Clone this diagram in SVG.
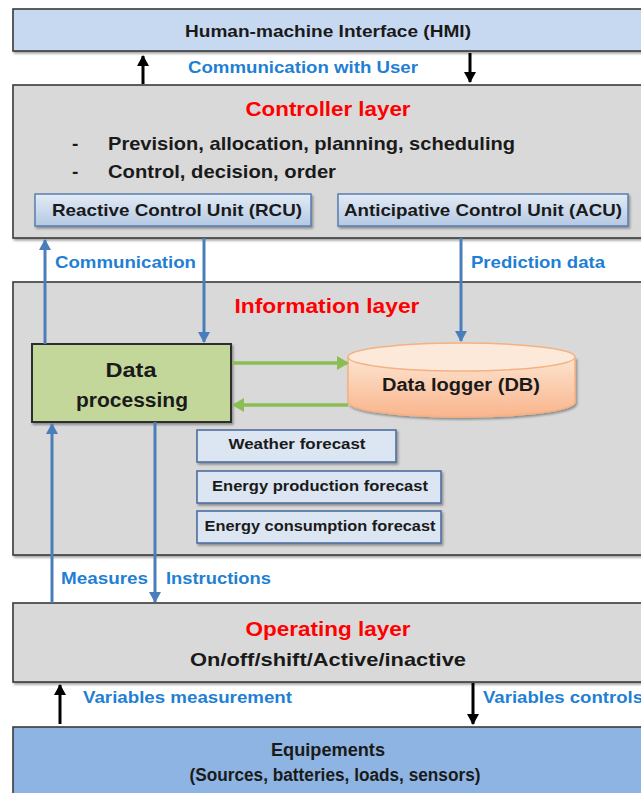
<svg xmlns="http://www.w3.org/2000/svg" width="641" height="793" viewBox="0 0 641 793">
  <style>
    .layer { fill: #d9d9d9; stroke: #3a3a3a; stroke-width: 1.6; }
    .t { font-family: "Liberation Sans", Arial, sans-serif; font-weight: bold; }
    .dark { fill: #1a1a1a; }
    .blue { fill: #1f7fd4; }
    .red { fill: #ff0000; }
    .unit { fill: url(#unitGrad); stroke: #4f78ab; stroke-width: 1.4; }
    .fc { fill: #dce6f2; stroke: #4f6f9f; stroke-width: 1.6; }
    .barrow { stroke: #4a7ebb; stroke-width: 3; fill: none; }
    .karrow { stroke: #000; stroke-width: 3; fill: none; }
    .garrow { stroke: #8cbd55; stroke-width: 3.5; fill: none; }
  </style>
  <defs>
    <linearGradient id="unitGrad" x1="0" y1="0" x2="0" y2="1">
      <stop offset="0" stop-color="#e3ebf5"/>
      <stop offset="1" stop-color="#b4c9e4"/>
    </linearGradient>
    <linearGradient id="dbGrad" x1="0" y1="0" x2="0" y2="1">
      <stop offset="0" stop-color="#fde4d0"/>
      <stop offset="1" stop-color="#f9b58c"/>
    </linearGradient>
    <filter id="shadow" x="-5%" y="-5%" width="115%" height="130%">
      <feDropShadow dx="1.5" dy="2" stdDeviation="1.2" flood-color="#000" flood-opacity="0.35"/>
    </filter>
    <marker id="headBlue" markerUnits="userSpaceOnUse" markerWidth="12" markerHeight="12" refX="10" refY="6" orient="auto">
      <path d="M0,0 L11,6 L0,12 Z" fill="#4a7ebb"/>
    </marker>
    <marker id="headBlack" markerUnits="userSpaceOnUse" markerWidth="12" markerHeight="12" refX="10" refY="6" orient="auto">
      <path d="M0,0 L11,6 L0,12 Z" fill="#000"/>
    </marker>
    <marker id="headGreen" markerUnits="userSpaceOnUse" markerWidth="12" markerHeight="14" refX="10" refY="7" orient="auto">
      <path d="M0,0 L12,7 L0,14 Z" fill="#8cbd55"/>
    </marker>
  </defs>

  <rect width="641" height="793" fill="#ffffff"/>

  <!-- HMI -->
  <g id="hmi">
    <rect x="13" y="9" width="640" height="42" fill="#c6d9f1" stroke="#3a3a3a" stroke-width="1.6" filter="url(#shadow)"/>
    <text class="t dark" x="328" y="37" font-size="17" text-anchor="middle" textLength="286" lengthAdjust="spacingAndGlyphs">Human-machine Interface (HMI)</text>
  </g>

  <!-- Controller layer -->
  <g id="controller">
    <rect class="layer" x="13" y="85" width="640" height="153" filter="url(#shadow)"/>
    <text class="t red" x="328" y="116" font-size="21" text-anchor="middle" textLength="165" lengthAdjust="spacingAndGlyphs">Controller layer</text>
    <text class="t dark" x="72" y="150" font-size="19">-</text>
    <text class="t dark" x="108" y="150" font-size="19" textLength="407" lengthAdjust="spacingAndGlyphs">Prevision, allocation, planning, scheduling</text>
    <text class="t dark" x="72" y="178" font-size="19">-</text>
    <text class="t dark" x="108" y="178" font-size="19" textLength="228" lengthAdjust="spacingAndGlyphs">Control, decision, order</text>
  </g>
  <g id="rcu">
    <rect class="unit" x="35" y="194" width="276" height="32" filter="url(#shadow)"/>
    <text class="t dark" x="177" y="216" font-size="17" text-anchor="middle" textLength="250" lengthAdjust="spacingAndGlyphs">Reactive Control Unit (RCU)</text>
  </g>
  <g id="acu">
    <rect class="unit" x="338" y="194" width="290" height="32" filter="url(#shadow)"/>
    <text class="t dark" x="483" y="216" font-size="17" text-anchor="middle" textLength="278" lengthAdjust="spacingAndGlyphs">Anticipative Control Unit (ACU)</text>
  </g>

  <!-- Information layer -->
  <g id="information">
    <rect class="layer" x="13" y="282" width="640" height="273" filter="url(#shadow)"/>
    <text class="t red" x="327" y="313" font-size="21" text-anchor="middle" textLength="185" lengthAdjust="spacingAndGlyphs">Information layer</text>
  </g>
  <g id="data-processing">
    <rect x="32" y="344" width="199" height="78" fill="#c4d79b" stroke="#2e2e2e" stroke-width="2" filter="url(#shadow)"/>
    <text class="t dark" x="131" y="377" font-size="20" text-anchor="middle" textLength="51" lengthAdjust="spacingAndGlyphs">Data</text>
    <text class="t dark" x="132" y="407" font-size="20" text-anchor="middle" textLength="112" lengthAdjust="spacingAndGlyphs">processing</text>
  </g>
  <g id="data-logger">
    <path d="M348,357 L348,402 A113.5,15 0 0 0 575,402 L575,357" fill="url(#dbGrad)" stroke="#f4b183" stroke-width="1.5" filter="url(#shadow)"/>
    <ellipse cx="461.5" cy="357" rx="113.5" ry="14" fill="#fde9d9" stroke="#f4b183" stroke-width="1.5"/>
    <text class="t dark" x="461" y="391" font-size="18" text-anchor="middle" textLength="158" lengthAdjust="spacingAndGlyphs">Data logger (DB)</text>
  </g>
  <g id="weather-forecast">
    <rect class="fc" x="197" y="430" width="199" height="32" filter="url(#shadow)"/>
    <text class="t dark" x="297" y="449" font-size="15" text-anchor="middle" textLength="137" lengthAdjust="spacingAndGlyphs">Weather forecast</text>
  </g>
  <g id="production-forecast">
    <rect class="fc" x="197" y="471" width="244" height="32" filter="url(#shadow)"/>
    <text class="t dark" x="320" y="491" font-size="15" text-anchor="middle" textLength="216" lengthAdjust="spacingAndGlyphs">Energy production forecast</text>
  </g>
  <g id="consumption-forecast">
    <rect class="fc" x="197" y="511" width="244" height="32" filter="url(#shadow)"/>
    <text class="t dark" x="320" y="531" font-size="15" text-anchor="middle" textLength="231" lengthAdjust="spacingAndGlyphs">Energy consumption forecast</text>
  </g>

  <!-- Operating layer -->
  <g id="operating">
    <rect class="layer" x="13" y="603" width="640" height="79" filter="url(#shadow)"/>
    <text class="t red" x="328" y="636" font-size="21" text-anchor="middle" textLength="165" lengthAdjust="spacingAndGlyphs">Operating layer</text>
    <text class="t dark" x="328" y="666" font-size="19" text-anchor="middle" textLength="276" lengthAdjust="spacingAndGlyphs">On/off/shift/Active/inactive</text>
  </g>

  <!-- Equipment -->
  <g id="equipment">
    <rect x="13" y="727" width="640" height="80" fill="#8db4e2" stroke="#3a3a3a" stroke-width="1.6"/>
    <text class="t dark" x="328" y="756" font-size="18" text-anchor="middle" textLength="114" lengthAdjust="spacingAndGlyphs">Equipements</text>
    <text class="t dark" x="335" y="781" font-size="18" text-anchor="middle" textLength="291" lengthAdjust="spacingAndGlyphs">(Sources, batteries, loads, sensors)</text>
  </g>

  <!-- Connectors -->
  <g id="connectors">
    <line class="karrow" x1="143" y1="84" x2="143" y2="56" marker-end="url(#headBlack)"/>
    <line class="karrow" x1="470" y1="53" x2="470" y2="82" marker-end="url(#headBlack)"/>
    <line class="barrow" x1="45" y1="344" x2="45" y2="240" marker-end="url(#headBlue)"/>
    <line class="barrow" x1="204" y1="238" x2="204" y2="342" marker-end="url(#headBlue)"/>
    <line class="barrow" x1="461" y1="238" x2="461" y2="341" marker-end="url(#headBlue)"/>
    <line class="garrow" x1="232" y1="363" x2="347" y2="363" marker-end="url(#headGreen)"/>
    <line class="garrow" x1="348" y1="405" x2="234" y2="405" marker-end="url(#headGreen)"/>
    <line class="barrow" x1="52" y1="603" x2="52" y2="424" marker-end="url(#headBlue)"/>
    <line class="barrow" x1="155" y1="422" x2="155" y2="602" marker-end="url(#headBlue)"/>
    <line class="karrow" x1="60" y1="724" x2="60" y2="685" marker-end="url(#headBlack)"/>
    <line class="karrow" x1="473" y1="683" x2="473" y2="724" marker-end="url(#headBlack)"/>
  </g>

  <!-- Connector labels -->
  <g id="labels">
    <text class="t blue" x="303" y="73" font-size="17" text-anchor="middle" textLength="230" lengthAdjust="spacingAndGlyphs">Communication with User</text>
    <text class="t blue" x="55" y="268" font-size="17" textLength="141" lengthAdjust="spacingAndGlyphs">Communication</text>
    <text class="t blue" x="471" y="268" font-size="17" textLength="134" lengthAdjust="spacingAndGlyphs">Prediction data</text>
    <text class="t blue" x="61" y="584" font-size="17" textLength="87" lengthAdjust="spacingAndGlyphs">Measures</text>
    <text class="t blue" x="166" y="584" font-size="17" textLength="105" lengthAdjust="spacingAndGlyphs">Instructions</text>
    <text class="t blue" x="83" y="703" font-size="17" textLength="209" lengthAdjust="spacingAndGlyphs">Variables measurement</text>
    <text class="t blue" x="483" y="703" font-size="17" textLength="160" lengthAdjust="spacingAndGlyphs">Variables controls</text>
  </g>
</svg>
